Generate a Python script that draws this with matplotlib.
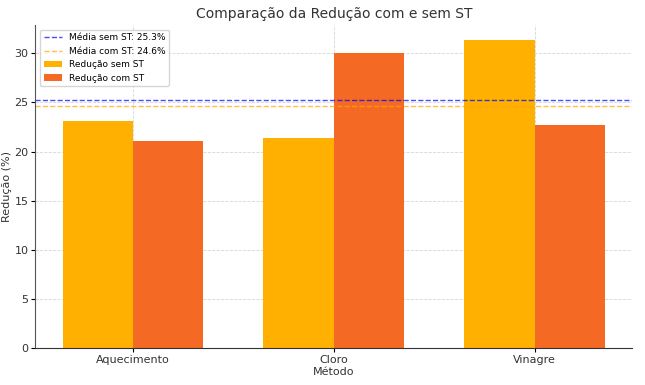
import numpy as np
import matplotlib
matplotlib.use("Agg")
import matplotlib.pyplot as plt

metodos = ["Aquecimento", "Cloro", "Vinagre"]
reducao_sem_st = [23.1, 21.4, 31.3]
reducao_com_st = [21.1, 30.0, 22.7]

media_sem = np.mean(reducao_sem_st)
media_com = np.mean(reducao_com_st)

x = np.arange(len(metodos))
width = 0.35

fig, ax = plt.subplots(figsize=(6.45, 3.85), dpi=100)

ax.axhline(media_sem, color="blue", linestyle="--", linewidth=1, alpha=0.7,
           label=f"Média sem ST: {media_sem:.1f}%")
ax.axhline(media_com, color="orange", linestyle="--", linewidth=1, alpha=0.7,
           label=f"Média com ST: {media_com:.1f}%")
ax.bar(x - width / 2, reducao_sem_st, width, color="#FFB000", label="Redução sem ST")
ax.bar(x + width / 2, reducao_com_st, width, color="#F46A25", label="Redução com ST")

ax.set_title("Comparação da Redução com e sem ST", fontsize=10, color="#333333", pad=5)
ax.set_xlabel("Método", fontsize=8, labelpad=1, color="#333333")
ax.set_ylabel("Redução (%)", fontsize=8, labelpad=2, color="#333333")
ax.set_xticks(x)
ax.set_xticklabels(metodos)
ax.tick_params(axis="both", labelsize=8, length=3, pad=2, labelcolor="#333333")
ax.grid(True, linestyle="--", color="#cccccc", linewidth=0.6, alpha=0.8)
ax.set_axisbelow(True)
for s in ["top", "right"]:
    ax.spines[s].set_visible(False)
ax.spines["left"].set_color("#555555")
ax.spines["bottom"].set_color("#333333")
ax.legend(loc="upper left", fontsize=6.5)

fig.subplots_adjust(left=0.055, right=0.98, top=0.935, bottom=0.095)
fig.savefig("out.png", dpi=100)
